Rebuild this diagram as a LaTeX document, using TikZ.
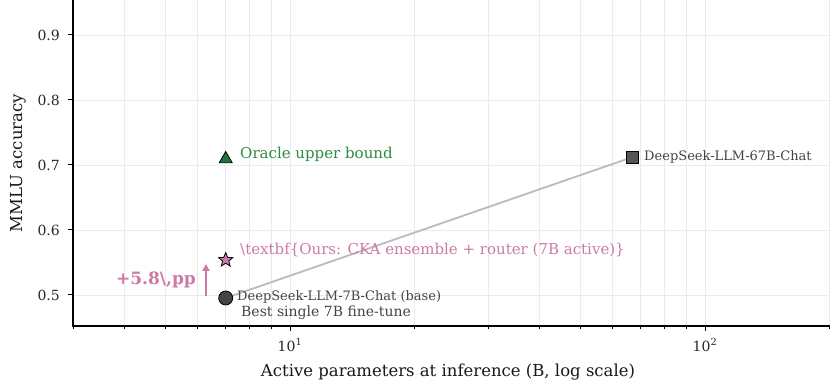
\documentclass[tikz,border=0pt]{standalone}
\usepackage{fontspec}
\setmainfont{DejaVu Serif}
\usetikzlibrary{shapes.geometric,arrows.meta}
\definecolor{gridc}{HTML}{EBEBEB}
\definecolor{oracleg}{HTML}{1B7837}
\definecolor{oracletxt}{HTML}{2E8B3E}
\definecolor{oursp}{HTML}{CC79A7}
\definecolor{basegray}{HTML}{444444}
\definecolor{biggray}{HTML}{555555}
\definecolor{txtgray}{HTML}{444444}
\definecolor{linegray}{HTML}{BBBBBB}
\begin{document}
\begin{tikzpicture}[x=1pt,y=1pt,
  gridline/.style={draw=gridc,line width=0.9pt},
  spine/.style={draw=black,line width=1.2pt},
  tickmark/.style={draw=black,line width=1pt},
  ticklab/.style={font=\fontsize{14}{16}\selectfont,text=black!85,inner sep=0pt},
  axlab/.style={font=\fontsize{16.5}{18}\selectfont,text=black!90,inner sep=0pt},
  annot/.style={font=\fontsize{15}{17}\selectfont,inner sep=0pt,anchor=west},
  mk/.style={draw=black,line width=0.8pt,inner sep=0pt}
]
\useasboundingbox (0,0) rectangle (830,385);
% grid
\foreach \gx in {124.9,165.1,197.9,225.7,249.8,271.0,290,414.9,488.0,539.9,580.1,612.9,640.7,664.8,686.0,705,829.5}
  \draw[gridline] (\gx,59) -- (\gx,385);
\foreach \gy in {90,155,220,285,350}
  \draw[gridline] (73,\gy) -- (830,\gy);
% spines
\draw[spine] (73,385) -- (73,59) -- (830,59);
% ticks
\foreach \gx in {73,124.9,165.1,197.9,225.7,249.8,271.0,414.9,488.0,539.9,580.1,612.9,640.7,664.8,686.0,829.5}
  \draw[tickmark] (\gx,59) -- (\gx,56);
\foreach \gx in {290,705}
  \draw[tickmark] (\gx,59) -- (\gx,54);
\foreach \gy/\lab in {90/0.5,155/0.6,220/0.7,285/0.8,350/0.9}{
  \draw[tickmark] (73,\gy) -- (67.5,\gy);
  \node[ticklab,anchor=east] (yl\lab) at (60,\gy) {\lab};
}
\node[ticklab] (xl10) at (290,40) {10\textsuperscript{1}};
\node[ticklab] (xl100) at (705,40) {10\textsuperscript{2}};
% axis labels
\node[axlab] (xlab) at (448,13) {Active parameters at inference (B, log scale)};
\node[axlab,rotate=90] (ylab) at (18,222) {MMLU accuracy};
% markers
\draw[draw=linegray,line width=1.8pt] (225.7,87) -- (632.8,228);
\node[mk,circle,fill=basegray,minimum size=14pt] (base) at (225.7,87) {};
\node[mk,rectangle,fill=biggray,minimum size=12pt] (big) at (632.8,228) {};
\node[mk,regular polygon,regular polygon sides=3,fill=oracleg,minimum size=15pt] (oracle) at (225.7,226) {};
\node[mk,star,star points=5,star point ratio=2.3,fill=oursp,minimum size=15pt] (ours) at (225.7,125) {};
% arrow
\coordinate (arrS) at (206,89);
\coordinate (arrE) at (206,121);
\draw[draw=oursp,line width=2pt,-{Triangle[length=7pt,width=7pt]}] (arrS) -- (arrE);
\node[font=\fontsize{17}{19}\selectfont\bfseries,text=oursp,inner sep=0pt,anchor=east] (gain) at (196,105) {+5.8\textbackslash,pp};
% annotations
\node[annot,text=oracletxt] (toracle) at (240,231) {Oracle upper bound};
\node[annot,text=oursp] (tours) at (240,135) {\textbackslash textbf\{Ours: CKA ensemble + router (7B active)\}};
\node[annot,text=txtgray,font=\fontsize{13}{15}\selectfont] (tbig) at (644,228) {DeepSeek-LLM-67B-Chat};
\node[annot,text=txtgray,font=\fontsize{13}{15}\selectfont] (tbase) at (237,88) {DeepSeek-LLM-7B-Chat (base)};
\node[annot,text=txtgray,font=\fontsize{14}{16}\selectfont] (tbest) at (241,72) {Best single 7B fine-tune};
\end{tikzpicture}
\end{document}
